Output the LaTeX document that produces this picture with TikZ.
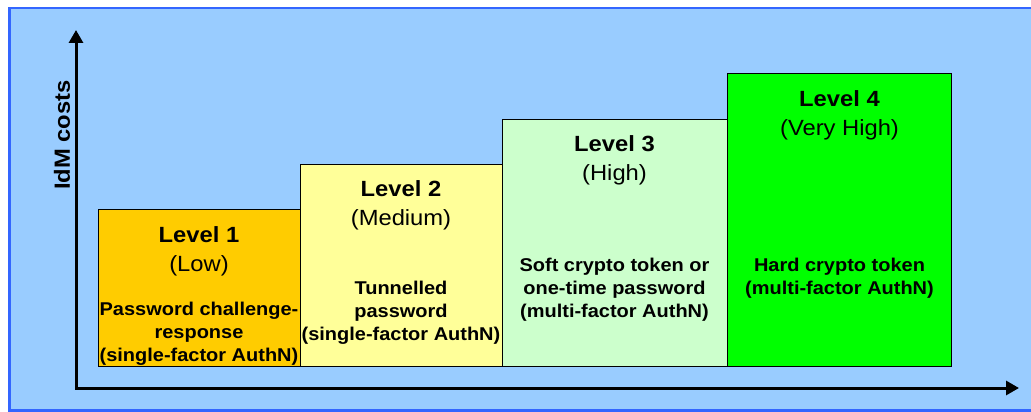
\documentclass[tikz,border=0pt]{standalone}
\usepackage{fontspec}
\setmainfont{Liberation Sans}[FakeStretch=1.08]
\usetikzlibrary{arrows.meta}
\definecolor{panelfill}{HTML}{99CCFF}
\definecolor{panelline}{HTML}{3366FF}
\definecolor{lvlone}{HTML}{FFCC00}
\definecolor{lvltwo}{HTML}{FFFF99}
\definecolor{lvlthree}{HTML}{CCFFCC}
\definecolor{lvlfour}{HTML}{00FF00}
\begin{document}
\begin{tikzpicture}[x=1pt,y=-1pt,
  levelbox/.style={draw=black, line width=1pt},
  leveltitle/.style={font=\bfseries\fontsize{22}{26}\selectfont, anchor=base, inner sep=0pt},
  rating/.style={font=\fontsize{22}{26}\selectfont, anchor=base, inner sep=0pt},
  detail/.style={font=\bfseries\fontsize{18.5}{23}\selectfont, align=center, anchor=north, inner sep=0pt},
  axisline/.style={line width=3pt, line join=miter,
    {Triangle[length=13pt,width=14pt]}-{Triangle[length=13pt,width=14pt]}}]
\useasboundingbox (0,0) rectangle (1031,412);
\clip (0,0) rectangle (1031,412);

% panel
\draw[fill=panelfill, draw=panelline, line width=2.5pt] (9.3,8) rectangle (1050,410.7);

% axes
\coordinate (ytip) at (76,30);
\coordinate (origin) at (76,388);
\coordinate (xtip) at (1019,388);
\draw[axisline] (ytip) -- (origin) -- (xtip);
\node[font=\bfseries\fontsize{22}{26}\selectfont, rotate=90, inner sep=0pt] (ylabel) at (62,135) {IdM costs};

% level bars
\draw[levelbox, fill=lvlone]   (98,209)  rectangle (300,366);
\draw[levelbox, fill=lvltwo]   (300,164) rectangle (502,366);
\draw[levelbox, fill=lvlthree] (502,119) rectangle (727,366);
\draw[levelbox, fill=lvlfour]  (727,74)  rectangle (951,366);

% level 1
\node[leveltitle] (t1) at (199,242.7) {Level 1};
\node[rating] (r1) at (199,271.2) {(Low)};
\node[detail] (d1) at (199,301.6) {Password challenge-\\response\\(single-factor AuthN)};

% level 2
\node[leveltitle] (t2) at (401,196.7) {Level 2};
\node[rating] (r2) at (401,225.2) {(Medium)};
\node[detail] (d2) at (401,281) {Tunnelled\\password\\(single-factor AuthN)};

% level 3
\node[leveltitle] (t3) at (614.5,151.7) {Level 3};
\node[rating] (r3) at (614.5,180.2) {(High)};
\node[detail] (d3) at (614.5,258.3) {Soft crypto token or\\one-time password\\(multi-factor AuthN)};

% level 4
\node[leveltitle] (t4) at (839.5,106.7) {Level 4};
\node[rating] (r4) at (839.5,135.2) {(Very High)};
\node[detail] (d4) at (839.5,258.3) {Hard crypto token\\(multi-factor AuthN)};
\end{tikzpicture}
\end{document}
